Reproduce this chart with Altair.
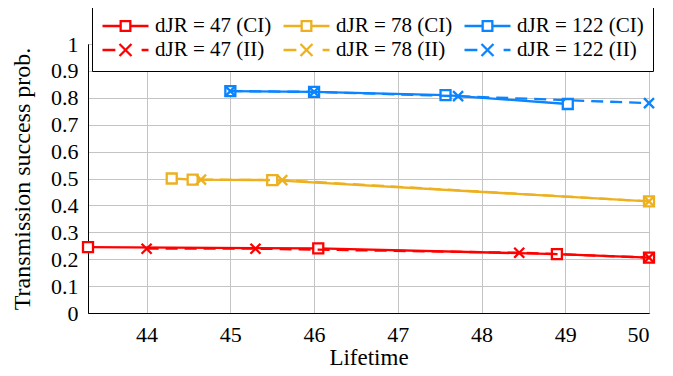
import altair as alt
import pandas as pd

# ---- data ----
labels = ["dJR = 47 (CI)", "dJR = 78 (CI)", "dJR = 122 (CI)",
          "dJR = 47 (II)", "dJR = 78 (II)", "dJR = 122 (II)"]
colors = ["#FF0000", "#EDB120", "#0A84FF", "#FF0000", "#EDB120", "#0A84FF"]

x_47_ci = [43.3, 46.05, 48.9, 50.0]
y_47_ci = [0.245, 0.240, 0.219, 0.206]
x_78_ci = [44.3, 44.55, 45.5, 50.0]
y_78_ci = [0.500, 0.496, 0.494, 0.415]
x_122_ci = [45.0, 46.0, 47.57, 49.03]
y_122_ci = [0.825, 0.822, 0.810, 0.777]

x_47_ii = [44.0, 45.3, 48.45, 50.0]
y_47_ii = [0.239, 0.239, 0.224, 0.206]
x_78_ii = [44.65, 45.62, 50.0]
y_78_ii = [0.496, 0.494, 0.415]
x_122_ii = [45.0, 46.0, 47.72, 50.0]
y_122_ii = [0.825, 0.822, 0.806, 0.780]

x_ticks = [44, 45, 46, 47, 48, 49, 50]
y_ticks = [0, 0.1, 0.2, 0.3, 0.4, 0.5, 0.6, 0.7, 0.8, 0.9, 1.0]

series = [
    (labels[0], "CI", x_47_ci, y_47_ci),
    (labels[1], "CI", x_78_ci, y_78_ci),
    (labels[2], "CI", x_122_ci, y_122_ci),
    (labels[3], "II", x_47_ii, y_47_ii),
    (labels[4], "II", x_78_ii, y_78_ii),
    (labels[5], "II", x_122_ii, y_122_ii),
]
rows = []
for lab, kind, xs, ys in series:
    for xv, yv in zip(xs, ys):
        rows.append({"series": lab, "kind": kind, "x": xv, "y": yv})
df = pd.DataFrame(rows)
ci = df[df["kind"] == "CI"]
ii = df[df["kind"] == "II"]
first = df.groupby("series", sort=False).head(1)

FONT = "Liberation Serif"
LW = 2.3
X_PATH = "M-1,-1L1,1M-1,1L1,-1"
CI_PATH = "M-1,0L-0.21,0M0.21,0L1,0M-0.21,-0.21L0.21,-0.21L0.21,0.21L-0.21,0.21Z"
II_PATH = "M-1,0L-0.44,0M-0.26,-0.26L0.26,0.26M-0.26,0.26L0.26,-0.26M0.7,0L1,0"

color_scale = alt.Scale(domain=labels, range=colors)

xenc = alt.X("x:Q",
             scale=alt.Scale(domain=[43.3, 50], nice=False, zero=False),
             axis=alt.Axis(values=x_ticks, format="d", title="Lifetime",
                           labelPadding=11, titlePadding=1, titleFontSize=23))
yenc = alt.Y("y:Q",
             scale=alt.Scale(domain=[0, 1], nice=False),
             axis=alt.Axis(values=y_ticks, format="~g",
                           title="Transmission success prob.",
                           labelPadding=10, titlePadding=16))

leg = alt.Legend(title=None, orient="none", legendX=4, legendY=-39,
                 columns=3, direction="horizontal",
                 symbolSize=2116, symbolStrokeWidth=LW, symbolOpacity=1,
                 clipHeight=24, rowPadding=0, columnPadding=10,
                 labelOffset=5, padding=9,
                 labelFont=FONT, labelFontSize=21, labelColor="black",
                 fillColor="white", strokeColor="black")

legend_layer = alt.Chart(first).mark_point(opacity=0, filled=False,
                                           strokeWidth=LW, size=10).encode(
    x=xenc, y=yenc,
    color=alt.Color("series:N", scale=color_scale, legend=leg),
    shape=alt.Shape("series:N",
                    scale=alt.Scale(domain=labels,
                                    range=[CI_PATH] * 3 + [II_PATH] * 3),
                    legend=leg))
ci_lines = alt.Chart(ci).mark_line(strokeWidth=LW).encode(
    x=xenc, y=yenc,
    stroke=alt.Stroke("series:N", scale=color_scale, legend=None))
ci_marks = alt.Chart(ci).mark_point(shape="square", size=100, filled=False,
                                    fill="white", strokeWidth=LW, opacity=1).encode(
    x=xenc, y=yenc,
    stroke=alt.Stroke("series:N", scale=color_scale, legend=None))
ii_lines = alt.Chart(ii).mark_line(strokeWidth=LW, strokeDash=[12, 7]).encode(
    x=xenc, y=yenc,
    stroke=alt.Stroke("series:N", scale=color_scale, legend=None))
ii_marks = alt.Chart(ii).mark_point(shape=X_PATH, size=100, filled=False,
                                    strokeWidth=LW, opacity=1).encode(
    x=xenc, y=yenc,
    stroke=alt.Stroke("series:N", scale=color_scale, legend=None))

chart = alt.layer(legend_layer, ci_lines, ci_marks, ii_lines, ii_marks).properties(
    width=561, height=269,
    autosize=alt.AutoSizeParams(type="none"),
    padding={"left": 80, "top": 36, "right": 12, "bottom": 57},
).configure_view(stroke="black", strokeWidth=1).configure_axis(
    labelFont=FONT, labelFontSize=22, labelColor="black",
    titleFont=FONT, titleFontSize=24, titleFontWeight="normal", titleColor="black",
    domainColor="black", domainWidth=1, ticks=False, tickSize=0,
    gridColor="#c4c4c4", gridWidth=1,
)

chart.save("out.html", embed_options={"renderer": "svg", "actions": False})
